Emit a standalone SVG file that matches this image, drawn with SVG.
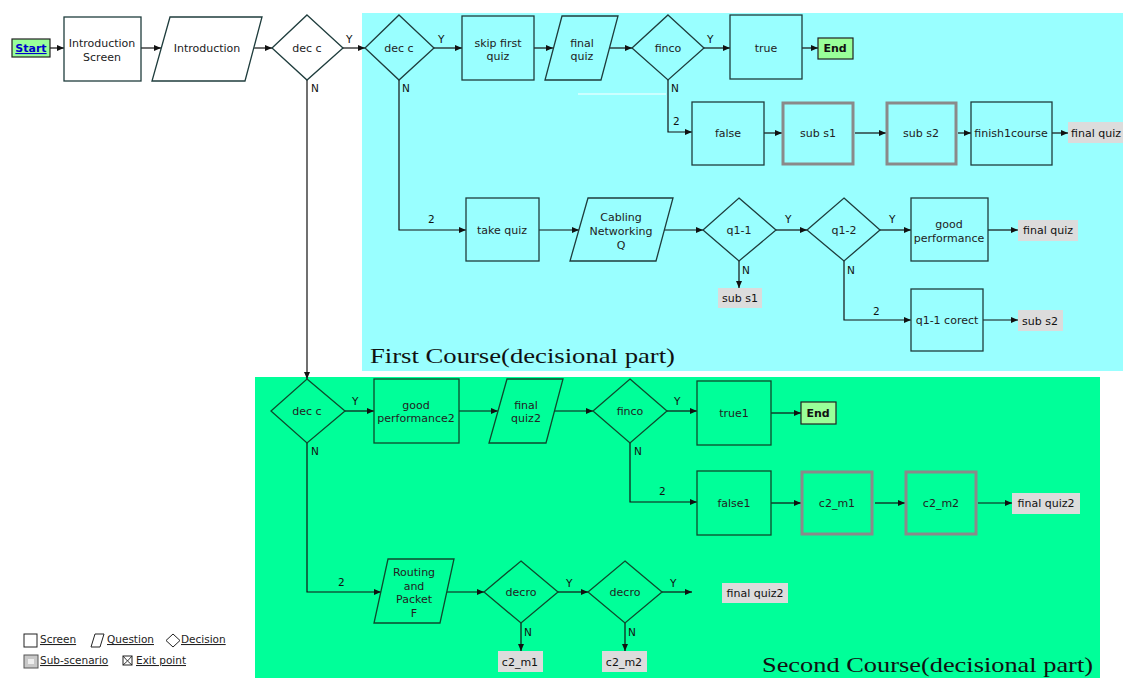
<svg xmlns="http://www.w3.org/2000/svg" width="1123" height="678" viewBox="0 0 1123 678">
<defs>
<marker id="arr" markerWidth="8" markerHeight="8" refX="7" refY="4" orient="auto" markerUnits="userSpaceOnUse">
<path d="M0,1 L7,4 L0,7 z" fill="#111"/>
</marker>
<style>
.box{fill:none;stroke:#1f3d3d;stroke-width:1.3}
.gbox{fill:none;stroke:#0d4a2c;stroke-width:1.3}
.sub{fill:none;stroke:#8a8a8a;stroke-width:3}
.t{font-family:"DejaVu Sans",sans-serif;font-size:11px;fill:#222;text-anchor:middle}
.lb{font-family:"DejaVu Sans",sans-serif;font-size:10.5px;fill:#111}
.ex{fill:#dcdcdc}
.et{font-family:"DejaVu Sans",sans-serif;font-size:11px;fill:#111;text-anchor:middle}
.c{fill:none;stroke:#111;stroke-width:1.2;marker-end:url(#arr)}
.cn{fill:none;stroke:#111;stroke-width:1.2}
.title{font-family:"Liberation Serif",serif;font-size:21px;fill:#111}
.leg{font-family:"DejaVu Sans",sans-serif;font-size:10.5px;fill:#222;text-decoration:underline}
</style>
</defs>
<rect width="1123" height="678" fill="#fff"/>
<!-- regions -->
<rect id="region1" x="362" y="13" width="761" height="358" fill="#99ffff"/>
<rect id="region2" x="255" y="377" width="845" height="301" fill="#00ff99"/>
<line x1="578" y1="94" x2="666" y2="94" stroke="#fff" stroke-width="1.2"/>

<g id="connectors">
<path class="c" d="M50,48 H64"/>
<path class="c" d="M141,48 H161"/>
<path class="c" d="M254,48 H272"/>
<path class="c" d="M343,48 H365"/>
<path class="c" d="M434,48 H462"/>
<path class="c" d="M534,48 H553"/>
<path class="c" d="M610,48 H632"/>
<path class="c" d="M704,48 H730"/>
<path class="c" d="M802,48 H818"/>
<path class="c" d="M668,80 V132 H692"/>
<path class="c" d="M764,133 H782"/>
<path class="c" d="M855,133 H886"/>
<path class="c" d="M958,133 H971"/>
<path class="c" d="M1052,133 H1068"/>
<path class="c" d="M399,80 V230 H466"/>
<path class="c" d="M539,230 H579"/>
<path class="c" d="M664,230 H703"/>
<path class="c" d="M776,230 H807"/>
<path class="c" d="M880,230 H911"/>
<path class="c" d="M988,230 H1018"/>
<path class="c" d="M739,261 V288"/>
<path class="c" d="M844,261 V320 H911"/>
<path class="c" d="M983,320 H1018"/>
<path class="c" d="M307,80 V379"/>
<path class="c" d="M345,411 H374"/>
<path class="c" d="M459,411 H498"/>
<path class="c" d="M555,411 H593"/>
<path class="c" d="M667,411 H697"/>
<path class="c" d="M771,413 H801"/>
<path class="c" d="M630,443 V502 H697"/>
<path class="c" d="M771,503 H801"/>
<path class="c" d="M875,503 H905"/>
<path class="c" d="M978,503 H1012"/>
<path class="c" d="M307,443 V592 H381"/>
<path class="c" d="M447,592 H484"/>
<path class="c" d="M558,592 H588"/>
<path class="c" d="M662,592 H692"/>
<path class="c" d="M521,623 V651"/>
<path class="c" d="M625,623 V651"/>
<!-- labels -->
<text class="lb" x="346" y="43">Y</text>
<text class="lb" x="438" y="43">Y</text>
<text class="lb" x="707" y="43">Y</text>
<text class="lb" x="785" y="223">Y</text>
<text class="lb" x="889" y="223">Y</text>
<text class="lb" x="352" y="405">Y</text>
<text class="lb" x="674" y="405">Y</text>
<text class="lb" x="566" y="587">Y</text>
<text class="lb" x="670" y="587">Y</text>
<text class="lb" x="311" y="92">N</text>
<text class="lb" x="402" y="92">N</text>
<text class="lb" x="671" y="92">N</text>
<text class="lb" x="742" y="274">N</text>
<text class="lb" x="847" y="274">N</text>
<text class="lb" x="311" y="455">N</text>
<text class="lb" x="634" y="455">N</text>
<text class="lb" x="524" y="636">N</text>
<text class="lb" x="628" y="636">N</text>
<text class="lb" x="673" y="125">2</text>
<text class="lb" x="428" y="223">2</text>
<text class="lb" x="873" y="315">2</text>
<text class="lb" x="659" y="495">2</text>
<text class="lb" x="338" y="586">2</text>
</g>

<g id="start">
<rect x="12" y="39" width="38" height="18" fill="#99ff99" stroke="#222" stroke-width="1.2"/>
<text x="31" y="52" font-family="DejaVu Sans,sans-serif" font-size="11" font-weight="bold" fill="#0000cc" text-anchor="middle" text-decoration="underline">Start</text>
</g>
<g id="intro-screen">
<rect class="box" x="64" y="17" width="77" height="64"/>
<text class="t" x="102" y="47">Introduction</text>
<text class="t" x="102" y="61">Screen</text>
</g>
<g id="introduction">
<polygon class="box" points="170,17 262,17 245,81 152,81"/>
<text class="t" x="207" y="52">Introduction</text>
</g>
<g id="dec-c1">
<polygon class="box" points="307,15 343,48 307,80 272,48"/>
<text class="t" x="307" y="52">dec c</text>
</g>

<g id="dec-c2">
<polygon class="box" points="399,15 434,48 399,80 365,48"/>
<text class="t" x="399" y="52">dec c</text>
</g>
<g id="skip-first-quiz">
<rect class="box" x="462" y="16" width="72" height="64"/>
<text class="t" x="498" y="47">skip first</text>
<text class="t" x="498" y="60">quiz</text>
</g>
<g id="final-quiz">
<polygon class="box" points="562,16 618,16 601,80 545,80"/>
<text class="t" x="582" y="47">final</text>
<text class="t" x="582" y="60">quiz</text>
</g>
<g id="finco1">
<polygon class="box" points="668,15 704,48 668,80 632,48"/>
<text class="t" x="668" y="52">finco</text>
</g>
<g id="true">
<rect class="box" x="730" y="15" width="72" height="64"/>
<text class="t" x="766" y="52">true</text>
</g>
<g id="end1">
<rect x="818" y="38" width="35" height="21" fill="#99ff99" stroke="#222" stroke-width="1.2"/>
<text x="835" y="52" font-family="DejaVu Sans,sans-serif" font-size="11" font-weight="bold" fill="#111" text-anchor="middle">End</text>
</g>
<g id="false">
<rect class="box" x="692" y="102" width="72" height="63"/>
<text class="t" x="728" y="137">false</text>
</g>
<g id="sub-s1">
<rect class="sub" x="783" y="103" width="70" height="61"/>
<text class="t" x="818" y="137">sub s1</text>
</g>
<g id="sub-s2">
<rect class="sub" x="887" y="103" width="69" height="61"/>
<text class="t" x="921" y="137">sub s2</text>
</g>
<g id="finish1course">
<rect class="box" x="971" y="102" width="81" height="63"/>
<text class="t" x="1011" y="137" font-size="10.5">finish1course</text>
</g>
<g id="exit-final-quiz1">
<rect class="ex" x="1068" y="122" width="55" height="21"/>
<text class="et" x="1096" y="137">final quiz</text>
</g>
<g id="take-quiz">
<rect class="box" x="466" y="198" width="73" height="63"/>
<text class="t" x="502" y="234">take quiz</text>
</g>
<g id="cabling">
<polygon class="box" points="588,198 673,198 656,261 570,261"/>
<text class="t" x="621" y="221">Cabling</text>
<text class="t" x="621" y="235">Networking</text>
<text class="t" x="621" y="249">Q</text>
</g>
<g id="q1-1">
<polygon class="box" points="739,198 776,230 739,261 703,230"/>
<text class="t" x="739" y="234">q1-1</text>
</g>
<g id="q1-2">
<polygon class="box" points="844,198 880,230 844,261 807,230"/>
<text class="t" x="844" y="234">q1-2</text>
</g>
<g id="good-performance">
<rect class="box" x="911" y="198" width="77" height="63"/>
<text class="t" x="949" y="228">good</text>
<text class="t" x="949" y="242">performance</text>
</g>
<g id="exit-final-quiz2">
<rect class="ex" x="1018" y="220" width="60" height="21"/>
<text class="et" x="1048" y="234">final quiz</text>
</g>
<g id="exit-sub-s1">
<rect class="ex" x="718" y="288" width="44" height="20"/>
<text class="et" x="740" y="302">sub s1</text>
</g>
<g id="q1-1-corect">
<rect class="box" x="911" y="289" width="72" height="62"/>
<text class="t" x="947" y="324">q1-1 corect</text>
</g>
<g id="exit-sub-s2">
<rect class="ex" x="1018" y="310" width="45" height="21"/>
<text class="et" x="1040" y="325">sub s2</text>
</g>
<text class="title" x="370" y="363" textLength="305" lengthAdjust="spacingAndGlyphs">First Course(decisional part)</text>

<g id="dec-c3">
<polygon class="gbox" points="307,379 345,411 307,443 271,411"/>
<text class="t" x="307" y="415">dec c</text>
</g>
<g id="good-performance2">
<rect class="gbox" x="374" y="379" width="85" height="64"/>
<text class="t" x="416" y="409">good</text>
<text class="t" x="416" y="422">performance2</text>
</g>
<g id="final-quiz2">
<polygon class="gbox" points="507,379 563,379 546,443 489,443"/>
<text class="t" x="526" y="409">final</text>
<text class="t" x="526" y="422">quiz2</text>
</g>
<g id="finco2">
<polygon class="gbox" points="630,379 667,411 630,443 593,411"/>
<text class="t" x="630" y="415">finco</text>
</g>
<g id="true1">
<rect class="gbox" x="697" y="381" width="74" height="64"/>
<text class="t" x="734" y="417">true1</text>
</g>
<g id="end2">
<rect x="801" y="402" width="35" height="22" fill="#99ff99" stroke="#222" stroke-width="1.2"/>
<text x="818" y="417" font-family="DejaVu Sans,sans-serif" font-size="11" font-weight="bold" fill="#111" text-anchor="middle">End</text>
</g>
<g id="false1">
<rect class="gbox" x="697" y="471" width="74" height="64"/>
<text class="t" x="734" y="507">false1</text>
</g>
<g id="c2-m1">
<rect class="sub" x="802" y="472" width="70" height="62"/>
<text class="t" x="837" y="507">c2_m1</text>
</g>
<g id="c2-m2">
<rect class="sub" x="906" y="472" width="70" height="62"/>
<text class="t" x="941" y="507">c2_m2</text>
</g>
<g id="exit-final-quiz2-a">
<rect class="ex" x="1012" y="493" width="68" height="21"/>
<text class="et" x="1046" y="507">final quiz2</text>
</g>
<g id="routing">
<polygon class="gbox" points="388,559 454,559 440,623 374,623"/>
<text class="t" x="414" y="576">Routing</text>
<text class="t" x="414" y="590">and</text>
<text class="t" x="414" y="603">Packet</text>
<text class="t" x="414" y="617">F</text>
</g>
<g id="decro1">
<polygon class="gbox" points="521,561 558,592 521,623 484,592"/>
<text class="t" x="521" y="596">decro</text>
</g>
<g id="decro2">
<polygon class="gbox" points="625,561 662,592 625,623 588,592"/>
<text class="t" x="625" y="596">decro</text>
</g>
<g id="exit-final-quiz2-b">
<rect class="ex" x="722" y="583" width="66" height="20"/>
<text class="et" x="755" y="597">final quiz2</text>
</g>
<g id="exit-c2-m1">
<rect class="ex" x="498" y="651" width="45" height="21"/>
<text class="et" x="520" y="666">c2_m1</text>
</g>
<g id="exit-c2-m2">
<rect class="ex" x="602" y="651" width="45" height="21"/>
<text class="et" x="624" y="666">c2_m2</text>
</g>
<text class="title" x="762" y="672" textLength="331" lengthAdjust="spacingAndGlyphs">Second Course(decisional part)</text>

<g id="legend">
<rect x="24" y="634" width="13" height="13" fill="#fff" stroke="#222" stroke-width="1"/>
<text class="leg" x="40" y="643">Screen</text>
<polygon points="95,634 104,634 100,647 91,647" fill="#fff" stroke="#222" stroke-width="1"/>
<text class="leg" x="107" y="643">Question</text>
<polygon points="173,634 180,640.5 173,647 166,640.5" fill="#fff" stroke="#222" stroke-width="1"/>
<text class="leg" x="181" y="643">Decision</text>
<rect x="24" y="655" width="14" height="13" fill="#c8c8c8" stroke="#555" stroke-width="1"/>
<rect x="28" y="659" width="6" height="5" fill="#eee"/>
<text class="leg" x="40" y="664">Sub-scenario</text>
<rect x="123" y="656" width="9" height="9" fill="#fff" stroke="#222" stroke-width="1"/>
<path d="M123,656 L127.5,661 L132,656 M123,665 L127.5,661 L132,665" fill="none" stroke="#222" stroke-width="0.9"/>
<text class="leg" x="136" y="664">Exit point</text>
</g>
</svg>
